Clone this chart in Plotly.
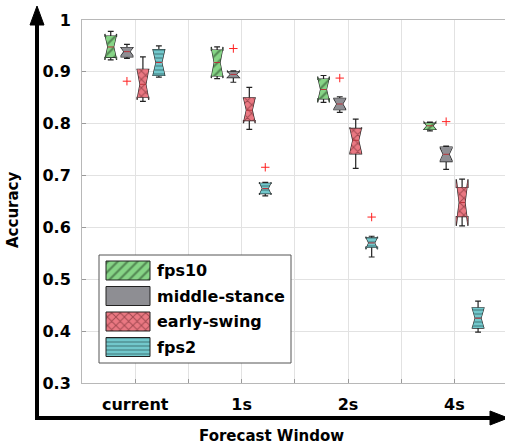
import plotly.graph_objects as go

# ---- data -------------------------------------------------------------
group_names = ["current", "1s", "2s", "4s"]
group_positions = [1, 3, 5, 7]
tick_positions = [1, 2, 3, 4, 5, 6, 7]
tick_labels = ["current", "", "1s", "", "2s", "", "4s"]
y_tick_values = [0.3, 0.4, 0.5, 0.6, 0.7, 0.8, 0.9, 1.0]
y_tick_labels = ["0.3", "0.4", "0.5", "0.6", "0.7", "0.8", "0.9", "1"]

series_names = ["fps10", "middle-stance", "early-swing", "fps2"]

# one row per series, one column per forecast window
lower_fence = [
    [0.925, 0.887, 0.841, 0.786],
    [0.926, 0.880, 0.822, 0.712],
    [0.843, 0.789, 0.714, 0.603],
    [0.890, 0.661, 0.543, 0.398],
]
q1 = [
    [0.928, 0.892, 0.848, 0.789],
    [0.929, 0.889, 0.827, 0.727],
    [0.851, 0.806, 0.742, 0.621],
    [0.893, 0.665, 0.562, 0.406],
]
median = [
    [0.948, 0.918, 0.866, 0.796],
    [0.939, 0.895, 0.838, 0.741],
    [0.876, 0.826, 0.768, 0.648],
    [0.918, 0.675, 0.570, 0.425],
]
q3 = [
    [0.969, 0.942, 0.886, 0.801],
    [0.947, 0.900, 0.849, 0.755],
    [0.905, 0.850, 0.791, 0.677],
    [0.943, 0.685, 0.580, 0.445],
]
upper_fence = [
    [0.978, 0.945, 0.893, 0.803],
    [0.953, 0.902, 0.852, 0.757],
    [0.929, 0.870, 0.809, 0.677],
    [0.950, 0.687, 0.583, 0.458],
]
notch_span = [
    [0.025, 0.030, 0.025, 0.007],
    [0.008, 0.006, 0.010, 0.012],
    [0.030, 0.025, 0.025, 0.045],
    [0.025, 0.012, 0.012, 0.020],
]

# outliers: series index, window index, value
outlier_series = [1, 1, 1, 1, 3, 3]
outlier_window = [0, 1, 2, 3, 1, 2]
outlier_values = [0.882, 0.945, 0.888, 0.804, 0.716, 0.620]

# ---- styling ----------------------------------------------------------
series_offsets = [-0.46, -0.155, 0.145, 0.445]
series_colors = ["#86d486", "#8e8e93", "#ea7882", "#72c8cc"]
series_hatch = ["/", "", "x", "-"]
hatch_size = [7, 6, 6, 4]
hatch_ink = ["#1f3a1f", None, "#5a1a20", "#1d3d40"]
box_width = 0.22
notch_width = 0.25
FONT = "DejaVu Sans"
EDGE = "#222222"

W, H = 505, 445
ML, MR, MT, MB = 82, 0, 20, 62
PW = W - ML - MR
PH = H - MT - MB


def px_x(px):
    return (px - ML) / PW


def px_y(py):
    return (H - MB - py) / PH


def pattern(i):
    if series_hatch[i]:
        return dict(shape=series_hatch[i], bgcolor=series_colors[i],
                    fgcolor=hatch_ink[i], size=hatch_size[i], solidity=0.3)
    return None


fig = go.Figure()

# hatched fill of each notched box (same outline geometry as the box trace)
for s in range(len(series_names)):
    for g in range(len(group_names)):
        x = group_positions[g] + series_offsets[s]
        hw = box_width / 2
        x0, x1 = x - hw, x + hw
        xm0, xm1 = x - hw * (1 - 2 * notch_width), x + hw * (1 - 2 * notch_width)
        m = median[s][g]
        ln, un = m - notch_span[s][g], m + notch_span[s][g]
        xs = [x0, x0, xm0, x0, x0, x1, x1, xm1, x1, x1, x0]
        ys = [q1[s][g], ln, m, un, q3[s][g], q3[s][g], un, m, ln, q1[s][g], q1[s][g]]
        kw = dict(x=xs, y=ys, mode="lines", fill="toself",
                  line=dict(width=0, color=series_colors[s]),
                  fillcolor=series_colors[s], showlegend=False, hoverinfo="skip")
        if pattern(s):
            kw["fillpattern"] = pattern(s)
        fig.add_trace(go.Scatter(**kw))

# box outlines, whiskers and caps
for s in range(len(series_names)):
    fig.add_trace(go.Box(
        x=[p + series_offsets[s] for p in group_positions],
        q1=q1[s], median=median[s], q3=q3[s],
        lowerfence=lower_fence[s], upperfence=upper_fence[s],
        notchspan=notch_span[s], notched=True, notchwidth=notch_width,
        width=box_width, whiskerwidth=0.5, boxpoints=False,
        fillcolor="rgba(0,0,0,0)", line=dict(color=EDGE, width=1.2),
        name=series_names[s], showlegend=False, hoverinfo="skip",
    ))

# median marks
med_x, med_y = [], []
for s in range(len(series_names)):
    for g in range(len(group_names)):
        x = group_positions[g] + series_offsets[s]
        hwm = box_width / 2 * (1 - 2 * notch_width)
        med_x += [x - hwm, x + hwm, None]
        med_y += [median[s][g], median[s][g], None]
fig.add_trace(go.Scatter(x=med_x, y=med_y, mode="lines",
                         line=dict(color="#b8323a", width=1),
                         showlegend=False, hoverinfo="skip"))

# outliers
fig.add_trace(go.Scatter(
    x=[group_positions[g] + series_offsets[s] for s, g in zip(outlier_series, outlier_window)],
    y=outlier_values, mode="markers",
    marker=dict(symbol="cross-thin", size=6, line=dict(color="#ff2020", width=1)),
    showlegend=False, hoverinfo="skip"))

# ---- legend drawn on an overlay axis in paper units -------------------
LEG_L, LEG_R, LEG_T, LEG_B = 99, 291, 255, 363
fig.add_trace(go.Scatter(
    x=[px_x(LEG_L), px_x(LEG_R), px_x(LEG_R), px_x(LEG_L), px_x(LEG_L)],
    y=[px_y(LEG_T), px_y(LEG_T), px_y(LEG_B), px_y(LEG_B), px_y(LEG_T)],
    mode="lines", fill="toself", fillcolor="white",
    line=dict(color="#555555", width=1), xaxis="x2", yaxis="y2",
    showlegend=False, hoverinfo="skip"))

row_centers = [270.5, 296, 321.5, 347]
annotations = []
for i, name in enumerate(series_names):
    cy = row_centers[i]
    sx0, sx1, sy0, sy1 = 106, 150, cy - 9.5, cy + 9.5
    kw = dict(
        x=[px_x(sx0), px_x(sx1), px_x(sx1), px_x(sx0), px_x(sx0)],
        y=[px_y(sy0), px_y(sy0), px_y(sy1), px_y(sy1), px_y(sy0)],
        mode="lines", fill="toself", fillcolor=series_colors[i],
        line=dict(color=EDGE, width=1), xaxis="x2", yaxis="y2",
        showlegend=False, hoverinfo="skip")
    if pattern(i):
        kw["fillpattern"] = pattern(i)
    fig.add_trace(go.Scatter(**kw))
    annotations.append(dict(
        x=px_x(155), y=px_y(cy), xref="paper", yref="paper",
        text=name, showarrow=False, xanchor="left", yanchor="middle",
        font=dict(family=FONT, size=16, color="black", weight="bold")))

# axis titles
annotations.append(dict(
    x=px_x(271), y=px_y(436), xref="paper", yref="paper", text="Forecast Window",
    showarrow=False, xanchor="center", yanchor="middle",
    font=dict(family=FONT, size=15, color="black", weight="bold")))
annotations.append(dict(
    x=px_x(13), y=px_y(210), xref="paper", yref="paper", text="Accuracy",
    showarrow=False, textangle=-90, xanchor="center", yanchor="middle",
    font=dict(family=FONT, size=15, color="black", weight="bold")))

# thick axis arrows
shapes = [
    dict(type="line", xref="paper", yref="paper",
         x0=px_x(37), x1=px_x(37), y0=px_y(420), y1=px_y(22),
         line=dict(color="black", width=4)),
    dict(type="path", xref="paper", yref="paper",
         path=f"M {px_x(37)},{px_y(6)} L {px_x(30)},{px_y(25)} L {px_x(44)},{px_y(25)} Z",
         fillcolor="black", line=dict(color="black", width=1)),
    dict(type="line", xref="paper", yref="paper",
         x0=px_x(35), x1=px_x(493), y0=px_y(418), y1=px_y(418),
         line=dict(color="black", width=4)),
    dict(type="path", xref="paper", yref="paper",
         path=f"M {px_x(508)},{px_y(418)} L {px_x(490)},{px_y(411)} L {px_x(490)},{px_y(425)} Z",
         fillcolor="black", line=dict(color="black", width=1)),
]

axis_font = dict(family=FONT, size=16, color="black", weight="bold")
fig.update_layout(
    width=W, height=H,
    margin=dict(l=ML, r=MR, t=MT, b=MB),
    paper_bgcolor="white", plot_bgcolor="white",
    showlegend=False, boxmode="overlay",
    xaxis=dict(range=[0, PW / 53.2], tickvals=tick_positions, ticktext=tick_labels,
               showgrid=True, gridcolor="#e2e2e2", gridwidth=1,
               showline=True, linecolor="#b8b8b8", linewidth=1, mirror=True,
               ticks="inside", ticklen=4, tickcolor="#9a9a9a",
               tickfont=axis_font, ticklabelstandoff=7, zeroline=False),
    yaxis=dict(range=[0.3, 1.0], tickvals=y_tick_values, ticktext=y_tick_labels,
               showgrid=True, gridcolor="#e2e2e2", gridwidth=1,
               showline=True, linecolor="#b8b8b8", linewidth=1, mirror=True,
               ticks="inside", ticklen=4, tickcolor="#9a9a9a",
               tickfont=axis_font, ticklabelstandoff=7, zeroline=False),
    xaxis2=dict(overlaying="x", range=[0, 1], visible=False, fixedrange=True),
    yaxis2=dict(overlaying="y", range=[0, 1], visible=False, fixedrange=True),
    annotations=annotations,
    shapes=shapes,
)

fig.write_html("out.html")
